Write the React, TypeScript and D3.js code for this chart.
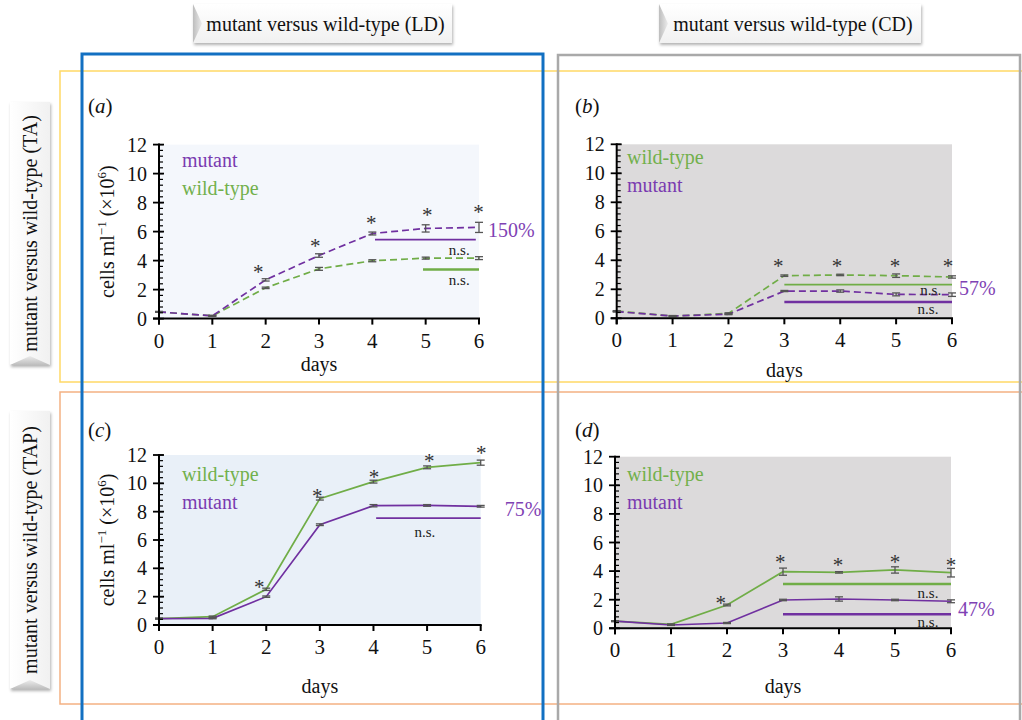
import React from 'react';
import * as d3 from 'd3';

const days = [0, 1, 2, 3, 4, 5, 6];
const yTicks = [0, 2, 4, 6, 8, 10, 12];

// (a) TA medium, LD
const aMutant = [0.46, 0.19, 2.67, 4.35, 5.87, 6.22, 6.29];
const aMutantErr = [0.03, 0.03, 0.08, 0.12, 0.1, 0.25, 0.35];
const aWild = [0.46, 0.19, 2.12, 3.43, 3.99, 4.17, 4.17];
const aWildErr = [0.03, 0.03, 0.05, 0.1, 0.07, 0.07, 0.1];
const aStarDays = [1.86, 2.93, 3.98, 5.03, 5.99];
const aStarVals = [3.48, 5.3, 6.9, 7.45, 7.6];

// (b) TA medium, CD
const bWild = [0.5, 0.15, 0.34, 2.94, 2.99, 2.94, 2.85];
const bWildErr = [0.03, 0.03, 0.04, 0.05, 0.05, 0.12, 0.08];
const bMutant = [0.46, 0.16, 0.28, 1.88, 1.88, 1.65, 1.63];
const bMutantErr = [0.03, 0.03, 0.03, 0.04, 0.08, 0.1, 0.12];
const bStarDays = [2.89, 3.94, 4.98, 5.93];
const bStarVals = [3.88, 3.88, 3.88, 3.88];

// (c) TAP medium, LD
const cWild = [0.45, 0.59, 2.52, 8.92, 10.12, 11.13, 11.46];
const cWildErr = [0.03, 0.04, 0.08, 0.1, 0.1, 0.1, 0.18];
const cMutant = [0.45, 0.47, 2.0, 7.08, 8.42, 8.44, 8.38];
const cMutantErr = [0.03, 0.03, 0.05, 0.06, 0.08, 0.06, 0.06];
const cStarDays = [1.87, 2.95, 4.01, 5.04, 6.01];
const cStarVals = [2.96, 9.39, 10.73, 11.86, 12.42];

// (d) TAP medium, CD
const dWild = [0.5, 0.28, 1.63, 3.96, 3.91, 4.08, 3.89];
const dWildErr = [0.03, 0.03, 0.06, 0.25, 0.05, 0.22, 0.3];
const dMutant = [0.5, 0.23, 0.37, 1.98, 2.05, 1.98, 1.89];
const dMutantErr = [0.03, 0.03, 0.04, 0.05, 0.15, 0.05, 0.1];
const dStarDays = [1.89, 2.95, 3.98, 5.0, 6.0];
const dStarVals = [2.05, 4.92, 4.71, 4.92, 4.71];

// n.s. reference lines: [from day, to day, value]
const aRefMutant = [4.05, 5.94, 5.44];
const aRefWild = [4.95, 6, 3.39];
const bRefWild = [3, 6, 2.32];
const bRefMutant = [3, 6, 1.12];
const cRefMutant = [4.05, 6, 7.55];
const dRefWild = [3, 6, 3.1];
const dRefMutant = [3, 6, 0.98];

// n.s. labels: [day, value]
const aNs = [[5.63, 4.75], [5.63, 2.67]];
const bNs = [[5.62, 1.95], [5.57, 0.64]];
const cNs = [[4.96, 6.56]];
const dNs = [[5.59, 2.47], [5.59, 0.44]];

const percents = ['150%', '57%', '75%', '47%'];
const percentVals = [6.13, 2.09, 8.19, 1.35];

const PURPLE = '#7030a0';
const GREEN = '#70ad47';
const FONT = "'Liberation Serif', 'Times New Roman', serif";

type Series = { values: number[]; err: number[]; color: string };
type Ref = { r: number[]; color: string; w: number };

type PanelCfg = {
  label: string;
  left: number;
  width: number;
  bottom: number;
  height: number;
  bg: string;
  dashed: boolean;
  series: Series[];
  legend: { text: string; color: string }[];
  legendX: number;
  legendY: number;
  refs: Ref[];
  ns: number[][];
  starDays: number[];
  starVals: number[];
  pct: string;
  pctVal: number;
  pctDx: number;
  pctColor: string;
  yLabel: boolean;
  labelX: number;
  labelY: number;
  daysDy: number;
};

function Panel({ cfg }: { cfg: PanelCfg }) {
  const x = d3.scaleLinear().domain([0, 6]).range([cfg.left, cfg.left + cfg.width]);
  const y = d3.scaleLinear().domain([0, 12]).range([cfg.bottom, cfg.bottom - cfg.height]);
  const line = d3
    .line<number>()
    .x((_, i) => x(days[i]))
    .y((d) => y(d));
  const minor = d3.range(0, 31).map((i) => i * 0.4);
  const x0 = x(0);
  const y0 = y(0);

  return (
    <g>
      <rect x={x0} y={y(12)} width={x(6) - x0} height={y0 - y(12)} fill={cfg.bg} />
      {cfg.legend.map((l, i) => (
        <text key={l.text} x={cfg.legendX} y={cfg.legendY + i * 28} fontSize={20} fill={l.color}>
          {l.text}
        </text>
      ))}
      {cfg.refs.map((r, i) => (
        <line key={i} x1={x(r.r[0])} x2={x(r.r[1])} y1={y(r.r[2])} y2={y(r.r[2])} stroke={r.color} strokeWidth={r.w} />
      ))}
      {cfg.series.map((s, i) => (
        <path
          key={i}
          d={line(s.values) || ''}
          fill="none"
          stroke={s.color}
          strokeWidth={1.7}
          strokeDasharray={cfg.dashed ? '7,4' : undefined}
        />
      ))}
      {cfg.series.map((s, i) => (
        <g key={'e' + i} stroke="#555" strokeWidth={1.3}>
          {s.values.map((v, j) => {
            const cx = x(days[j]);
            const t = y(v + s.err[j]);
            const b = y(v - s.err[j]);
            return (
              <g key={j}>
                <line x1={cx} x2={cx} y1={t} y2={b} />
                <line x1={cx - 4} x2={cx + 4} y1={t} y2={t} />
                <line x1={cx - 4} x2={cx + 4} y1={b} y2={b} />
              </g>
            );
          })}
        </g>
      ))}
      {cfg.starDays.map((d, i) => (
        <text key={'s' + i} x={x(d)} y={y(cfg.starVals[i]) + 11} fontSize={21} fill="#333" textAnchor="middle">
          *
        </text>
      ))}
      {cfg.ns.map((n, i) => (
        <text key={'n' + i} x={x(n[0])} y={y(n[1]) + 5} fontSize={15} fill="#222" textAnchor="middle">
          n.s.
        </text>
      ))}
      <text x={x(6) + cfg.pctDx} y={y(cfg.pctVal)} dy="0.35em" fontSize={20} fill={cfg.pctColor}>
        {cfg.pct}
      </text>
      {/* y axis */}
      <line x1={x0} x2={x0} y1={y(12) - 1} y2={y0 + 6} stroke="#000" strokeWidth={2} />
      {minor.map((m, i) => (
        <line key={'m' + i} x1={x0} x2={x0 + 4} y1={y(m)} y2={y(m)} stroke="#000" strokeWidth={1.2} />
      ))}
      {yTicks.map((t) => (
        <g key={'y' + t}>
          <line x1={x0 - 6} x2={x0 + 5} y1={y(t)} y2={y(t)} stroke="#000" strokeWidth={1.8} />
          <text x={x0 - 12} y={y(t)} dy="0.35em" fontSize={20} textAnchor="end" fill="#111">
            {t}
          </text>
        </g>
      ))}
      {/* x axis */}
      <line x1={x0 - 6} x2={x(6) + 1} y1={y0} y2={y0} stroke="#000" strokeWidth={2} />
      {days.map((d) => (
        <g key={'x' + d}>
          <line x1={x(d)} x2={x(d)} y1={y0} y2={y0 + 6} stroke="#000" strokeWidth={2} />
          <text x={x(d)} y={y0 + 29} fontSize={21} textAnchor="middle" fill="#111">
            {d}
          </text>
        </g>
      ))}
      <text x={(x0 + x(6)) / 2} y={y0 + cfg.daysDy} fontSize={20} textAnchor="middle" fill="#111">
        days
      </text>
      {cfg.yLabel && (
        <text
          transform={`translate(${x0 - 45},${(y0 + y(12)) / 2}) rotate(-90)`}
          fontSize={20}
          textAnchor="middle"
          fill="#111"
        >
          cells ml
          <tspan dy={-8} fontSize={13}>−1</tspan>
          <tspan dy={8}> (×10</tspan>
          <tspan dy={-8} fontSize={13}>6</tspan>
          <tspan dy={8}>)</tspan>
        </text>
      )}
      <text x={cfg.labelX} y={cfg.labelY} fontSize={21} fill="#111">
        (<tspan fontStyle="italic">{cfg.label}</tspan>)
      </text>
    </g>
  );
}

function Plaque({ x, y, w, h, text, vertical }: { x: number; y: number; w: number; h: number; text: string; vertical?: boolean }) {
  const bevel = vertical
    ? `${x},${y + h} ${x + w / 2},${y + h - 9} ${x + w},${y + h}`
    : `${x},${y} ${x + 9},${y + h / 2} ${x},${y + h}`;
  return (
    <g>
      <rect x={x} y={y} width={w} height={h} fill={vertical ? 'url(#plaqueV)' : 'url(#plaqueH)'} filter="url(#shadow)" />
      <polygon points={bevel} fill={vertical ? 'url(#bevelV)' : 'url(#bevelH)'} />
      {vertical ? (
        <text
          transform={`translate(${x + w / 2 + 7},${y + h / 2}) rotate(-90)`}
          fontSize={20}
          textAnchor="middle"
          fill="#111"
        >
          {text}
        </text>
      ) : (
        <text x={x + w / 2 + 3} y={y + h / 2 + 7} fontSize={20} textAnchor="middle" fill="#111">
          {text}
        </text>
      )}
    </g>
  );
}

const panels: PanelCfg[] = [
  {
    label: 'a', left: 159, width: 320, bottom: 318.6, height: 174, bg: '#f4f7fc', dashed: true,
    series: [
      { values: aWild, err: aWildErr, color: GREEN },
      { values: aMutant, err: aMutantErr, color: PURPLE },
    ],
    legend: [{ text: 'mutant', color: '#7a3bb0' }, { text: 'wild-type', color: '#72b04c' }],
    legendX: 182, legendY: 167,
    refs: [{ r: aRefMutant, color: PURPLE, w: 1.8 }, { r: aRefWild, color: GREEN, w: 2.5 }],
    ns: aNs, starDays: aStarDays, starVals: aStarVals,
    pct: percents[0], pctVal: percentVals[0], pctDx: 9, pctColor: '#7f42b4',
    yLabel: true, labelX: 88, labelY: 113, daysDy: 52,
  },
  {
    label: 'b', left: 616.7, width: 335.3, bottom: 318.3, height: 174, bg: '#dcdadb', dashed: true,
    series: [
      { values: bWild, err: bWildErr, color: GREEN },
      { values: bMutant, err: bMutantErr, color: PURPLE },
    ],
    legend: [{ text: 'wild-type', color: '#72b04c' }, { text: 'mutant', color: '#7a3bb0' }],
    legendX: 627, legendY: 164,
    refs: [{ r: bRefWild, color: GREEN, w: 1.8 }, { r: bRefMutant, color: PURPLE, w: 2.5 }],
    ns: bNs, starDays: bStarDays, starVals: bStarVals,
    pct: percents[1], pctVal: percentVals[1], pctDx: 7, pctColor: '#7f42b4',
    yLabel: false, labelX: 575, labelY: 113, daysDy: 59,
  },
  {
    label: 'c', left: 159, width: 321.7, bottom: 625, height: 170, bg: '#e9f0f8', dashed: false,
    series: [
      { values: cWild, err: cWildErr, color: GREEN },
      { values: cMutant, err: cMutantErr, color: PURPLE },
    ],
    legend: [{ text: 'wild-type', color: '#72b04c' }, { text: 'mutant', color: '#7a3bb0' }],
    legendX: 182, legendY: 481,
    refs: [{ r: cRefMutant, color: PURPLE, w: 1.8 }],
    ns: cNs, starDays: cStarDays, starVals: cStarVals,
    pct: percents[2], pctVal: percentVals[2], pctDx: 24, pctColor: '#7f42b4',
    yLabel: true, labelX: 88, labelY: 437, daysDy: 68,
  },
  {
    label: 'd', left: 615, width: 336, bottom: 628.3, height: 171.6, bg: '#dcdadb', dashed: false,
    series: [
      { values: dWild, err: dWildErr, color: GREEN },
      { values: dMutant, err: dMutantErr, color: PURPLE },
    ],
    legend: [{ text: 'wild-type', color: '#72b04c' }, { text: 'mutant', color: '#7a3bb0' }],
    legendX: 627, legendY: 481,
    refs: [{ r: dRefWild, color: GREEN, w: 2.5 }, { r: dRefMutant, color: PURPLE, w: 2.5 }],
    ns: dNs, starDays: dStarDays, starVals: dStarVals,
    pct: percents[3], pctVal: percentVals[3], pctDx: 7, pctColor: '#7f42b4',
    yLabel: false, labelX: 575, labelY: 437, daysDy: 65,
  },
];

export default function App() {
  return (
    <svg
      width={1022}
      height={720}
      style={{ position: 'absolute', left: 0, top: 0, display: 'block', background: '#fff', fontFamily: FONT }}
    >
      <defs>
        <linearGradient id="plaqueH" x1="0" y1="0" x2="0" y2="1">
          <stop offset="0" stopColor="#ffffff" />
          <stop offset="1" stopColor="#f1f1f1" />
        </linearGradient>
        <linearGradient id="plaqueV" x1="0" y1="0" x2="1" y2="0">
          <stop offset="0" stopColor="#ffffff" />
          <stop offset="1" stopColor="#f1f1f1" />
        </linearGradient>
        <linearGradient id="bevelH" x1="0" y1="0" x2="1" y2="0">
          <stop offset="0" stopColor="#bdbdbd" />
          <stop offset="1" stopColor="#ececec" />
        </linearGradient>
        <linearGradient id="bevelV" x1="0" y1="1" x2="0" y2="0">
          <stop offset="0" stopColor="#bdbdbd" />
          <stop offset="1" stopColor="#ececec" />
        </linearGradient>
        <filter id="shadow" x="-10%" y="-10%" width="130%" height="140%">
          <feDropShadow dx="1" dy="2" stdDeviation="1.5" floodColor="#000" floodOpacity="0.3" />
        </filter>
      </defs>

      <rect x={60} y={71} width={980} height={311} fill="none" stroke="#ffd966" strokeWidth={1.5} />
      <rect x={60} y={392} width={980} height={312} fill="none" stroke="#f4b183" strokeWidth={1.5} />
      <rect x={82} y={54} width={461} height={720} fill="none" stroke="#1270c2" strokeWidth={3} />
      <rect x={558} y={55} width={462} height={720} fill="none" stroke="#a9a9a9" strokeWidth={2.5} />

      <Plaque x={193} y={4} w={259} h={39} text="mutant versus wild-type (LD)" />
      <Plaque x={659} y={4} w={262} h={39} text="mutant versus wild-type (CD)" />
      <Plaque x={10} y={102} w={40} h={263} text="mutant versus wild-type (TA)" vertical />
      <Plaque x={10} y={411} w={40} h={278} text="mutant versus wild-type (TAP)" vertical />

      {panels.map((p) => (
        <Panel key={p.label} cfg={p} />
      ))}
    </svg>
  );
}
